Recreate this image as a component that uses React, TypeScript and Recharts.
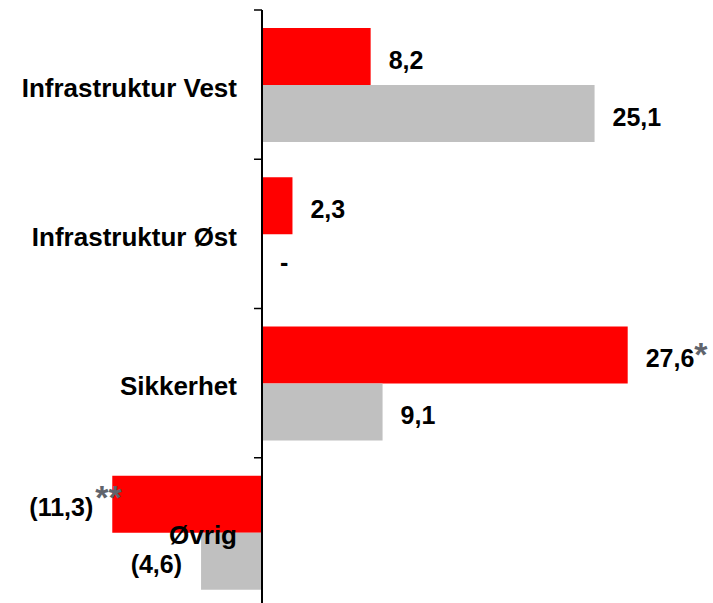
import { BarChart, Bar, XAxis, YAxis, LabelList, ReferenceLine } from 'recharts';

const CATEGORIES = ['Infrastruktur Vest', 'Infrastruktur Øst', 'Sikkerhet', 'Øvrig'];
const RED_VALUES = [8.2, 2.3, 27.6, -11.3];
const GRAY_VALUES = [25.1, 0, 9.1, -4.6];
const RED_NOTES = ['', '', '*', '**'];
const GRAY_NOTES = ['', '', '', ''];
const X_DOMAIN: [number, number] = [-12, 32];

const W = 713;
const H = 620;
const MARGIN = { top: 10, right: 27, bottom: 13, left: 102 };
const Y_AXIS_W = 1;
const PLOT_LEFT = MARGIN.left + Y_AXIS_W;
const PLOT_W = W - PLOT_LEFT - MARGIN.right;
const PLOT_H = H - MARGIN.top - MARGIN.bottom;
const ZERO_X = PLOT_LEFT + ((0 - X_DOMAIN[0]) / (X_DOMAIN[1] - X_DOMAIN[0])) * PLOT_W;
const BAND = PLOT_H / CATEGORIES.length;

const FONT = "'Liberation Sans', Arial, Helvetica, sans-serif";
const RED = '#ff0000';
const GRAY = '#c0c0c0';
const NOTE_COLOR = '#60646c';

const data = CATEGORIES.map((name, i) => ({ name, red: RED_VALUES[i], gray: GRAY_VALUES[i] }));

function fmt(v: number) {
  if (v === 0) return '-';
  const s = Math.abs(v).toFixed(1).replace('.', ',');
  return v < 0 ? `(${s})` : s;
}

const textStyle = { fontFamily: FONT, fontWeight: 700, fontSize: 25, fill: '#000' };

// zero-height bars get no label from recharts, so the red series draws the "-" for its partner
const valueLabel = (notes: string[], partner?: number[]) => (props: any) => {
  const { x, y, width, height, value, index } = props;
  const v = Number(value);
  const x0 = Number(x);
  const x1 = x0 + Number(width || 0);
  const right = Math.max(x0, x1);
  const left = Math.min(x0, x1);
  const h = Number(height);
  const cy = Number(y) + h / 2;
  const note = notes[index] ?? '';
  const zeroPartner = partner && partner[index] === 0 ? (
    <text {...textStyle} x={ZERO_X + 18} y={cy + h + 8} textAnchor="start">-</text>
  ) : null;
  if (v < 0) {
    return (
      <g>
        <text {...textStyle} x={left - 19} y={cy + 12} textAnchor="end">{fmt(v)}</text>
        {note && (
          <text {...textStyle} fontSize={34} x={left - 17} y={cy + 5} fill={NOTE_COLOR} textAnchor="start">{note}</text>
        )}
        {zeroPartner}
      </g>
    );
  }
  return (
    <g>
      <text {...textStyle} x={right + 18} y={cy + 12} textAnchor="start">
        {fmt(v)}
        {note && <tspan fill={NOTE_COLOR} fontSize={34} dy={-1}>{note}</tspan>}
      </text>
      {zeroPartner}
    </g>
  );
};

function CategoryTick(props: any) {
  const { y, payload, index } = props;
  const cy = Number(y);
  const last = index === CATEGORIES.length - 1;
  return (
    <g>
      <line x1={ZERO_X - 8} x2={ZERO_X} y1={cy - BAND / 2} y2={cy - BAND / 2} stroke="#000" strokeWidth={1.5} />
      {last && (
        <line x1={ZERO_X - 8} x2={ZERO_X} y1={cy + BAND / 2} y2={cy + BAND / 2} stroke="#000" strokeWidth={1.5} />
      )}
      <text {...textStyle} fontSize={26} x={ZERO_X - 25} y={cy + 12} textAnchor="end">
        {payload.value}
      </text>
    </g>
  );
}

export default function App() {
  return (
    <div style={{ position: 'fixed', left: 0, top: 0, width: W, height: 603, overflow: 'hidden', background: '#fff' }}>
      <BarChart
        layout="vertical"
        width={W}
        height={H}
        data={data}
        margin={MARGIN}
        barSize={57}
        barGap={0}
      >
        <XAxis type="number" domain={X_DOMAIN} hide allowDataOverflow />
        <Bar dataKey="red" fill={RED} isAnimationActive={false}>
          <LabelList dataKey="red" content={valueLabel(RED_NOTES, GRAY_VALUES)} />
        </Bar>
        <Bar dataKey="gray" fill={GRAY} isAnimationActive={false}>
          <LabelList dataKey="gray" content={valueLabel(GRAY_NOTES)} />
        </Bar>
        <ReferenceLine x={0} stroke="#000" strokeWidth={2} />
        <YAxis
          type="category"
          dataKey="name"
          width={Y_AXIS_W}
          axisLine={false}
          tickLine={false}
          interval={0}
          tick={(p: any) => <CategoryTick {...p} />}
        />
      </BarChart>
    </div>
  );
}
